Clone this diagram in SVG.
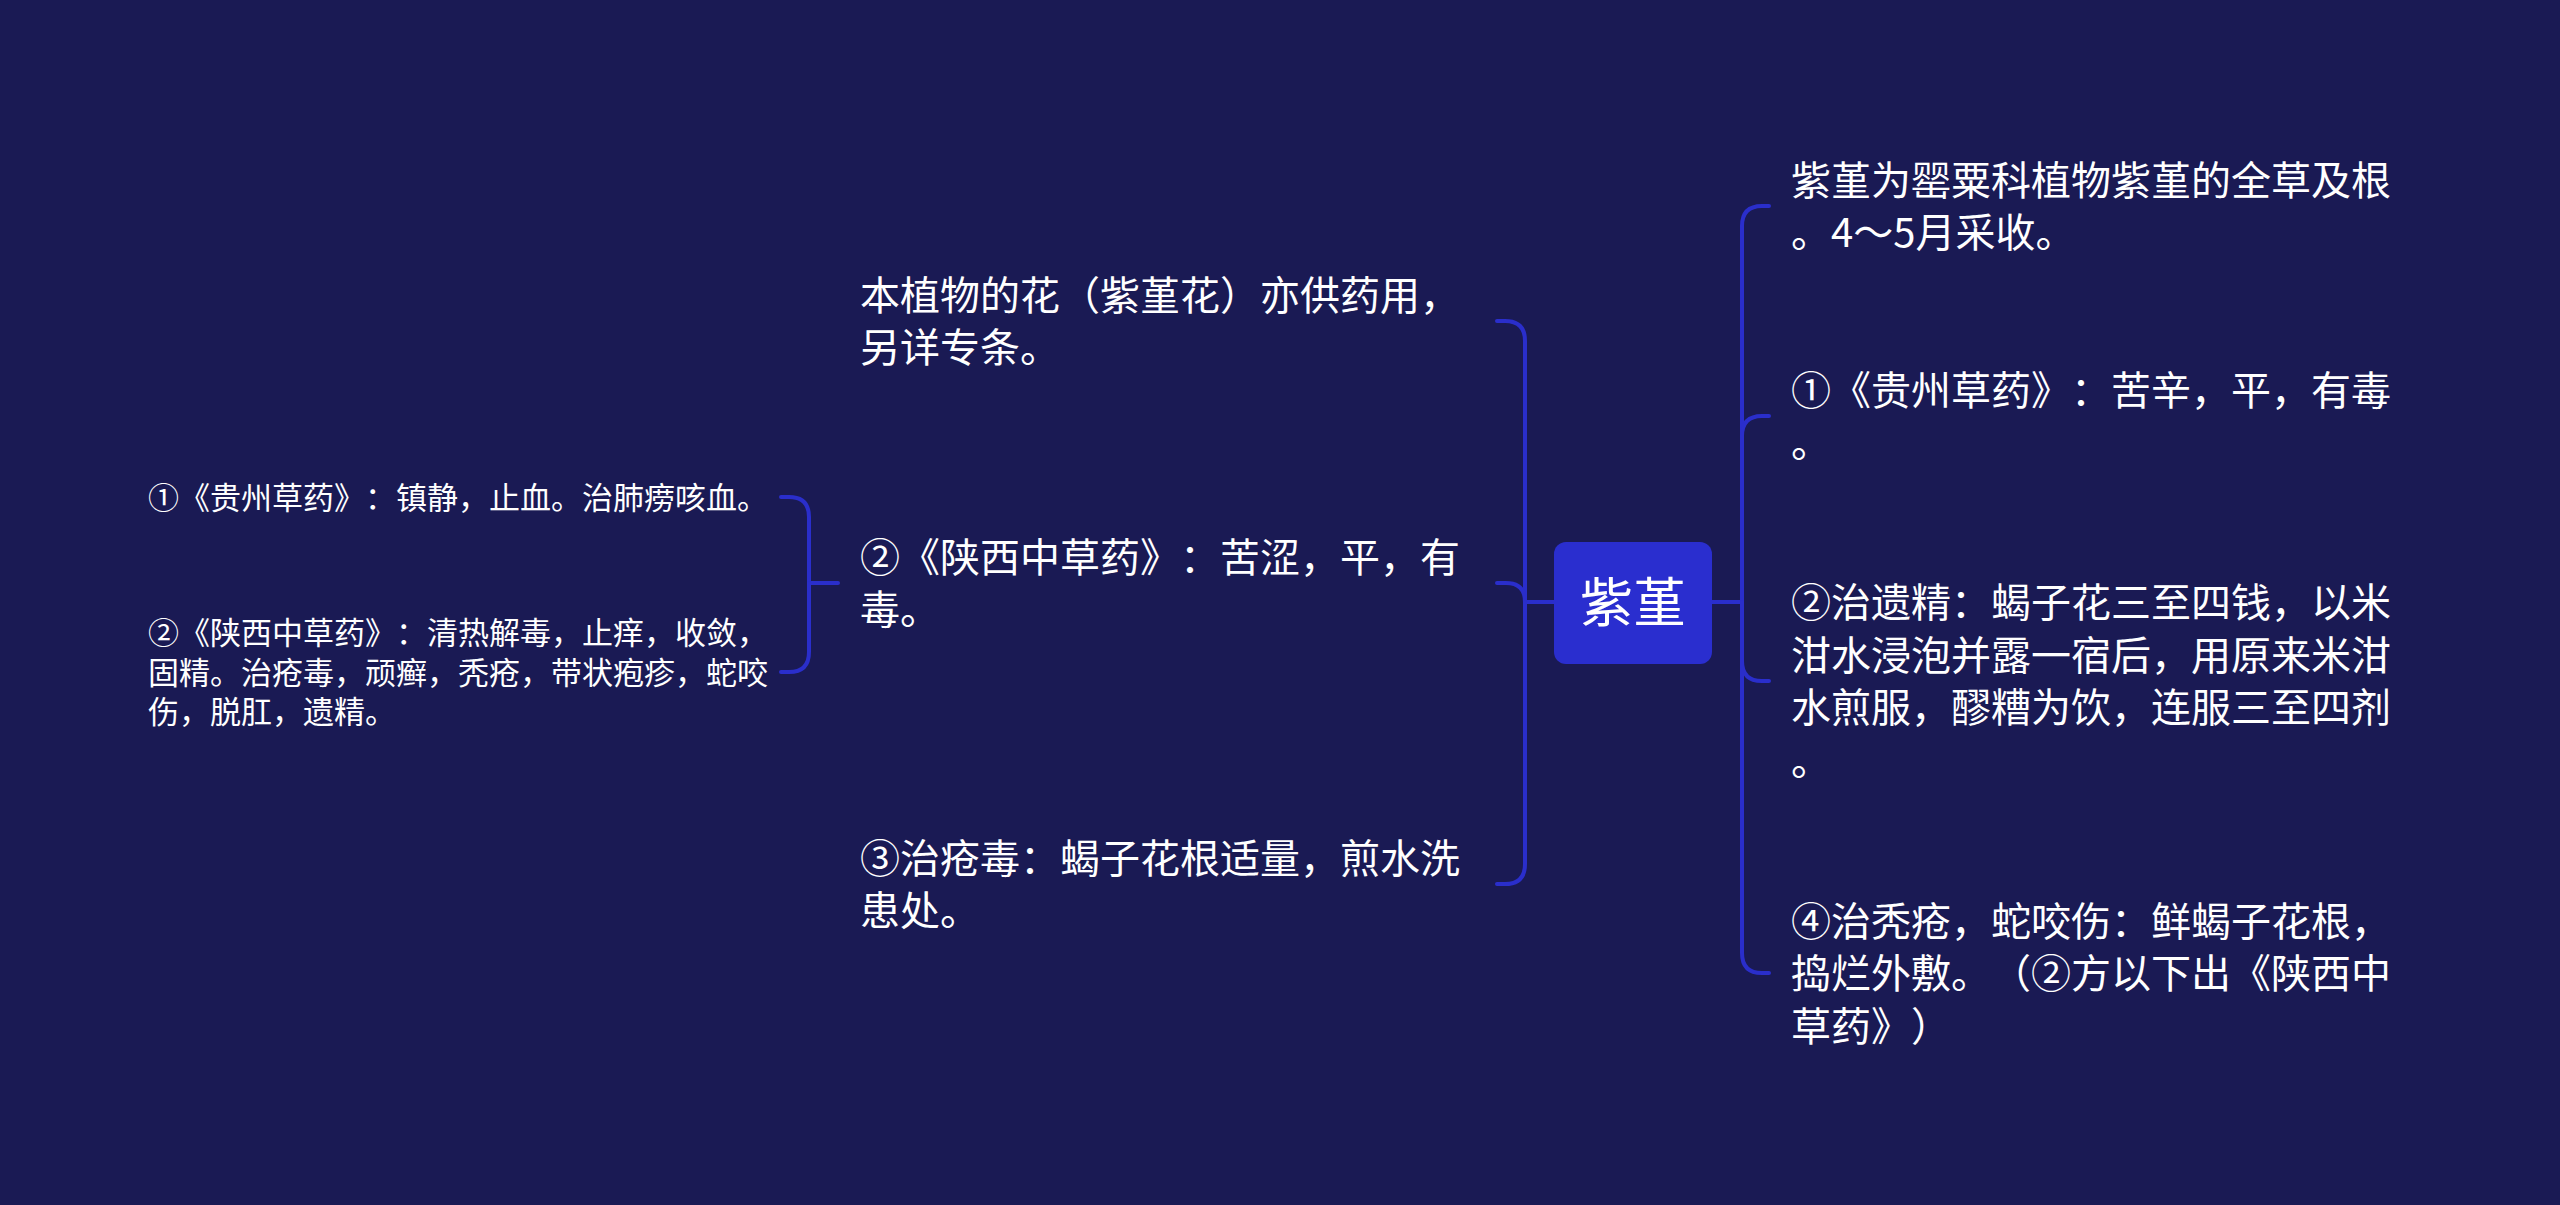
<svg xmlns="http://www.w3.org/2000/svg" width="2560" height="1205" viewBox="0 0 2560 1205">
<style>
.bg{fill:#1a1a54}
.ln{fill:none;stroke:#2a2ecb;stroke-width:4;stroke-linecap:round;stroke-linejoin:round}
.t{font-family:"Noto Sans CJK SC","Noto Sans",sans-serif;fill:#ffffff;text-spacing-trim:space-all}
.t40{font-size:40px}
.t31{font-size:31px}
.root-box{fill:#2a2ecf}
.root-t{font-size:53px;text-anchor:middle}
</style>
<rect class="bg" x="0" y="0" width="2560" height="1205"/>
<g id="connectors">
  <path class="ln" d="M1712,602 H1742"/>
  <path class="ln" d="M1742,602 V226 Q1742,206 1762,206 H1769"/>
  <path class="ln" d="M1742,602 V436 Q1742,416 1762,416 H1769"/>
  <path class="ln" d="M1742,602 V661 Q1742,681 1762,681 H1769"/>
  <path class="ln" d="M1742,602 V953 Q1742,973 1762,973 H1769"/>
  <path class="ln" d="M1554,602 H1525"/>
  <path class="ln" d="M1525,602 V341 Q1525,321 1505,321 H1497"/>
  <path class="ln" d="M1525,602 Q1525,583 1506,583 H1497"/>
  <path class="ln" d="M1525,602 V864 Q1525,884 1505,884 H1497"/>
  <path class="ln" d="M838,583 H809"/>
  <path class="ln" d="M809,583 V517 Q809,497 789,497 H781"/>
  <path class="ln" d="M809,583 V652 Q809,672 789,672 H781"/>
</g>
<g id="root">
  <rect class="root-box" x="1554" y="542" width="158" height="122" rx="12"/>
  <text class="t root-t" x="1633" y="622">紫堇</text>
</g>
<g id="r1">
  <text class="t t40" x="1791" y="195">紫堇为罂粟科植物紫堇的全草及根</text>
  <text class="t t40" x="1791" y="247">。4～5月采收。</text>
</g>
<g id="r2">
  <text class="t t40" x="1791" y="405">①《贵州草药》：苦辛，平，有毒</text>
  <text class="t t40" x="1791" y="457">。</text>
</g>
<g id="r3">
  <text class="t t40" x="1791" y="617">②治遗精：蝎子花三至四钱，以米</text>
  <text class="t t40" x="1791" y="670">泔水浸泡并露一宿后，用原来米泔</text>
  <text class="t t40" x="1791" y="722">水煎服，醪糟为饮，连服三至四剂</text>
  <text class="t t40" x="1791" y="775">。</text>
</g>
<g id="r4">
  <text class="t t40" x="1791" y="936">④治秃疮，蛇咬伤：鲜蝎子花根，</text>
  <text class="t t40" x="1791" y="988">捣烂外敷。（②方以下出《陕西中</text>
  <text class="t t40" x="1791" y="1041">草药》）</text>
</g>
<g id="m1">
  <text class="t t40" x="860" y="310">本植物的花（紫堇花）亦供药用，</text>
  <text class="t t40" x="860" y="362">另详专条。</text>
</g>
<g id="m2">
  <text class="t t40" x="860" y="572">②《陕西中草药》：苦涩，平，有</text>
  <text class="t t40" x="860" y="624">毒。</text>
</g>
<g id="m3">
  <text class="t t40" x="860" y="873">③治疮毒：蝎子花根适量，煎水洗</text>
  <text class="t t40" x="860" y="925">患处。</text>
</g>
<g id="l1">
  <text class="t t31" x="148" y="509">①《贵州草药》：镇静，止血。治肺痨咳血。</text>
</g>
<g id="l2">
  <text class="t t31" x="148" y="644">②《陕西中草药》：清热解毒，止痒，收敛，</text>
  <text class="t t31" x="148" y="684">固精。治疮毒，顽癣，秃疮，带状疱疹，蛇咬</text>
  <text class="t t31" x="148" y="723">伤，脱肛，遗精。</text>
</g>
</svg>
